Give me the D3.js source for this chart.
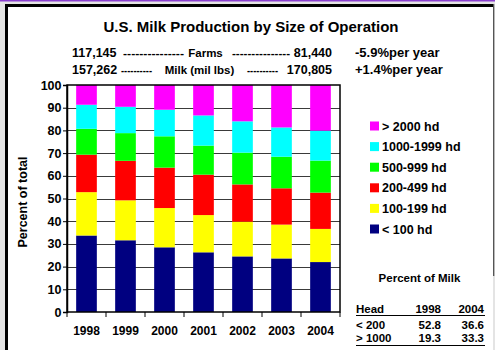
<!DOCTYPE html>
<html>
<head>
<meta charset="utf-8">
<script src="https://cdn.jsdelivr.net/npm/d3@7"></script>
<style>
  html, body { margin: 0; padding: 0; background: #fff; }
  svg { display: block; font-family: "Liberation Sans", Arial, sans-serif; font-weight: bold; }
</style>
</head>
<body>
<svg id="chart" width="495" height="350"></svg>
<script>
// Years on the category axis
const years = ["1998", "1999", "2000", "2001", "2002", "2003", "2004"];

// Herd-size groups, bottom of stack first
const groups = ["< 100 hd", "100-199 hd", "200-499 hd", "500-999 hd", "1000-1999 hd", "> 2000 hd"];
const groupColors = ["#000080", "#ffff00", "#ff0000", "#00ff00", "#00ffff", "#ff00ff"];

// Share of milk (%) by herd size, one array per group, aligned with years
const under100   = [33.7, 31.6, 28.5, 26.3, 24.5, 23.6, 22.0];
const h100to199  = [19.1, 17.6, 17.3, 16.4, 15.3, 14.9, 14.6];
const h200to499  = [16.5, 17.4, 17.8, 17.8, 16.4, 16.0, 16.0];
const h500to999  = [11.4, 12.2, 13.8, 12.8, 14.0, 13.9, 14.1];
const h1000to1999 = [10.6, 11.6, 11.7, 13.3, 13.8, 12.9, 13.2];
const over2000   = [ 8.7,  9.6, 10.9, 13.4, 16.0, 18.7, 20.1];

// Y axis ticks
const yTicks = [0, 10, 20, 30, 40, 50, 60, 70, 80, 90, 100];

// Summary table
const tableHead = ["Head", "1998", "2004"];
const tableRows = [["< 200", "52.8", "36.6"], ["> 1000", "19.3", "33.3"]];

const seriesValues = [under100, h100to199, h200to499, h500to999, h1000to1999, over2000];
const rows = years.map((y, i) => {
  const r = { year: y };
  groups.forEach((g, k) => { r[g] = seriesValues[k][i]; });
  return r;
});

const svg = d3.select("#chart");

// Page frame
svg.append("rect").attr("x", 0).attr("y", 0).attr("width", 495).attr("height", 350).attr("fill", "#e4e4e4");
svg.append("rect").attr("x", 6).attr("y", 5).attr("width", 487).attr("height", 345).attr("fill", "#fff");
svg.append("rect").attr("x", 0).attr("y", 0).attr("width", 495).attr("height", 1.5).attr("fill", "#8a3fd0");
svg.append("rect").attr("x", 5).attr("y", 4).attr("width", 489).attr("height", 3).attr("fill", "#000");
svg.append("rect").attr("x", 5).attr("y", 4).attr("width", 3).attr("height", 346).attr("fill", "#000");
svg.append("rect").attr("x", 493).attr("y", 4).attr("width", 1.3).attr("height", 272).attr("fill", "#555");

const plot = { left: 67, right: 340, top: 85, bottom: 312 };

const x = d3.scaleBand().domain(years).range([plot.left, plot.right])
  .paddingInner(0.47).paddingOuter(0.235);
const y = d3.scaleLinear().domain([0, 100]).range([plot.bottom, plot.top]);

// Gridlines
svg.append("g").selectAll("line").data(yTicks.filter(t => t > 0 && t < 100)).join("line")
  .attr("x1", plot.left).attr("x2", plot.right)
  .attr("y1", d => Math.round(y(d)) + 0.5).attr("y2", d => Math.round(y(d)) + 0.5)
  .attr("stroke", "#3a3a3a").attr("stroke-width", 1);

// Stacked bars
const stack = d3.stack().keys(groups)(rows);
svg.append("g").selectAll("g").data(stack).join("g")
  .attr("fill", (d, i) => groupColors[i])
  .selectAll("rect").data(d => d).join("rect")
  .attr("x", d => x(d.data.year))
  .attr("width", x.bandwidth())
  .attr("y", d => y(d[1]))
  .attr("height", d => y(d[0]) - y(d[1]));

// Plot border
svg.append("rect").attr("x", plot.left).attr("y", plot.top)
  .attr("width", plot.right - plot.left).attr("height", plot.bottom - plot.top)
  .attr("fill", "none").attr("stroke", "#000").attr("stroke-width", 1.5);

// Y axis
const yAxis = svg.append("g").attr("transform", `translate(${plot.left},0)`)
  .call(d3.axisLeft(y).tickValues(yTicks).tickSize(4).tickPadding(1.5));
yAxis.select(".domain").attr("stroke", "#000").attr("stroke-width", 1.5);
yAxis.selectAll(".tick line").attr("stroke", "#000");
yAxis.selectAll("text").attr("font-size", 12.5).attr("font-weight", "bold").attr("fill", "#000")
  .attr("font-family", "Liberation Sans, Arial, sans-serif");

// X axis: ticks at category boundaries, labels centred on bars
const step = x.step();
const boundaries = d3.range(years.length + 1).map(i => plot.left + i * step);
svg.append("g").selectAll("line").data(boundaries).join("line")
  .attr("x1", d => d).attr("x2", d => d)
  .attr("y1", plot.bottom).attr("y2", plot.bottom + 5)
  .attr("stroke", "#000").attr("stroke-width", 1);
svg.append("g").selectAll("text").data(years).join("text")
  .attr("x", d => x(d) + x.bandwidth() / 2)
  .attr("y", 335)
  .attr("text-anchor", "middle")
  .attr("font-size", 12)
  .text(d => d);

// Y axis title
svg.append("text")
  .attr("transform", "translate(27,202) rotate(-90)")
  .attr("text-anchor", "middle")
  .attr("font-size", 12.5)
  .text("Percent of total");

// Title and header lines
svg.append("text").attr("x", 251).attr("y", 32).attr("text-anchor", "middle")
  .attr("font-size", 15).text("U.S. Milk Production by Size of Operation");

function headerLine(yPos, leftVal, label, labelX, rightVal, note, dashes) {
  const g = svg.append("g").attr("font-size", 12.5);
  g.append("text").attr("x", 72).attr("y", yPos).text(leftVal);
  g.append("text").attr("x", 332).attr("y", yPos).attr("text-anchor", "end").text(rightVal);
  g.append("text").attr("x", labelX).attr("y", yPos).attr("text-anchor", "middle")
    .attr("font-size", 11.5).text(label);
  g.append("text").attr("x", 355).attr("y", yPos).attr("font-size", 13).text(note);
  dashes.forEach(([x0, x1, n]) => {
    g.append("text").attr("x", x0).attr("y", yPos - 0.5)
      .attr("font-size", 11)
      .attr("textLength", x1 - x0).attr("lengthAdjust", "spacingAndGlyphs")
      .text("-".repeat(n));
  });
}
headerLine(57, "117,145", "Farms", 205.5, "81,440", "-5.9%per year",
  [[123, 184, 15], [232, 290, 15]]);
headerLine(74, "157,262", "Milk (mil lbs)", 199.5, "170,805", "+1.4%per year",
  [[121, 152, 10], [247, 278, 10]]);

// Legend, top item first
const legendItems = groups.map((g, i) => ({ g, c: groupColors[i] })).reverse();
const legend = svg.append("g");
legendItems.forEach((d, i) => {
  const cy = 126 + i * 20.6;
  legend.append("rect").attr("x", 370).attr("y", cy - 4.5).attr("width", 9).attr("height", 9).attr("fill", d.c);
  legend.append("text").attr("x", 382).attr("y", cy + 4.5).attr("font-size", 12.5).text(d.g);
});

// Percent of Milk table
const tbl = svg.append("g").attr("font-size", 11.5);
tbl.append("text").attr("x", 419.5).attr("y", 282).attr("text-anchor", "middle").text("Percent of Milk");
const colX = [356, 441, 484];
const colAnchor = ["start", "end", "end"];
tableHead.forEach((t, i) => tbl.append("text").attr("x", colX[i]).attr("y", 313).attr("text-anchor", colAnchor[i]).text(t));
tbl.append("line").attr("x1", 356).attr("x2", 485).attr("y1", 315.5).attr("y2", 315.5).attr("stroke", "#000").attr("stroke-width", 1.2);
tableRows.forEach((r, j) => {
  r.forEach((t, i) => tbl.append("text").attr("x", colX[i]).attr("y", 329 + j * 12.7).attr("text-anchor", colAnchor[i]).text(t));
});
tbl.append("line").attr("x1", 356).attr("x2", 485).attr("y1", 345.5).attr("y2", 345.5).attr("stroke", "#000").attr("stroke-width", 1.2);
</script>
</body>
</html>
